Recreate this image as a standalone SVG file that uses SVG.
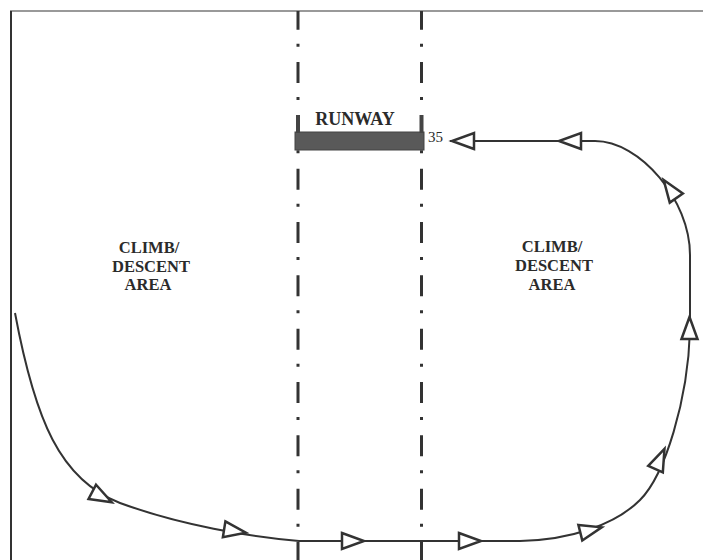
<svg xmlns="http://www.w3.org/2000/svg" width="703" height="560" viewBox="0 0 703 560">
<style>
.lbl{font-family:"Liberation Serif","Times New Roman",serif;font-weight:bold;fill:#2b2b2b;text-anchor:middle}
.num{font-family:"Liberation Serif","Times New Roman",serif;fill:#2b2b2b}
.cl{stroke:#333;stroke-width:3;stroke-dasharray:21 14 3 15.33;stroke-dashoffset:2.33;fill:none}
.route{stroke:#333;stroke-width:2;fill:none}
.arr{fill:#fff;stroke:#333;stroke-width:2.5;stroke-linejoin:miter}
</style>
<defs>
<polygon id="arr" class="arr" points="-11,-8 11,0 -11,8"/>
</defs>
<rect width="703" height="560" fill="#fff"/>
<g id="frame">
<line x1="10" y1="11" x2="703" y2="11" stroke="#777" stroke-width="1.5"/>
<line x1="11" y1="11" x2="11" y2="560" stroke="#333" stroke-width="2"/>
</g>
<g id="centerlines">
<line class="cl" x1="298" y1="11" x2="298" y2="560"/>
<line class="cl" x1="421.5" y1="11" x2="421.5" y2="560"/>
</g>
<g id="runway">
<rect x="295" y="132" width="129" height="18" fill="#595959" stroke="#444" stroke-width="1"/>
<rect x="296" y="115" width="4" height="18" fill="#444"/>
<rect x="419.5" y="115" width="4" height="18" fill="#444"/>
<text class="lbl" x="355" y="125" font-size="18">RUNWAY</text>
<text class="num" x="428" y="142" font-size="15">35</text>
</g>
<g id="area-left">
<text class="lbl" x="149" y="253" font-size="16.5">CLIMB/</text>
<text class="lbl" x="151" y="272" font-size="16.5">DESCENT</text>
<text class="lbl" x="148" y="290" font-size="16.5">AREA</text>
</g>
<g id="area-right">
<text class="lbl" x="552" y="252" font-size="16.5">CLIMB/</text>
<text class="lbl" x="554" y="271" font-size="16.5">DESCENT</text>
<text class="lbl" x="552" y="290" font-size="16.5">AREA</text>
</g>
<g id="connectors">
<path class="route" d="M15,313 C35,420 60,480 120,503 C180,525 250,537 299,541 L520,541 C570,540 615,525 640,500 C665,475 688,400 690,330 L690,255 C690,200 640,141 595,141 L450,141"/>
<use href="#arr" transform="translate(102,497) rotate(28)"/>
<use href="#arr" transform="translate(235,531) rotate(9)"/>
<use href="#arr" transform="translate(353,541)"/>
<use href="#arr" transform="translate(470,541)"/>
<use href="#arr" transform="translate(591,530) rotate(-14)"/>
<use href="#arr" transform="translate(660,459) rotate(-66)"/>
<use href="#arr" transform="translate(689.5,328) rotate(-90)"/>
<use href="#arr" transform="translate(670,189) rotate(-125)"/>
<use href="#arr" transform="translate(570,141) rotate(180)"/>
<use href="#arr" transform="translate(463,141) rotate(180)"/>
</g>
</svg>
